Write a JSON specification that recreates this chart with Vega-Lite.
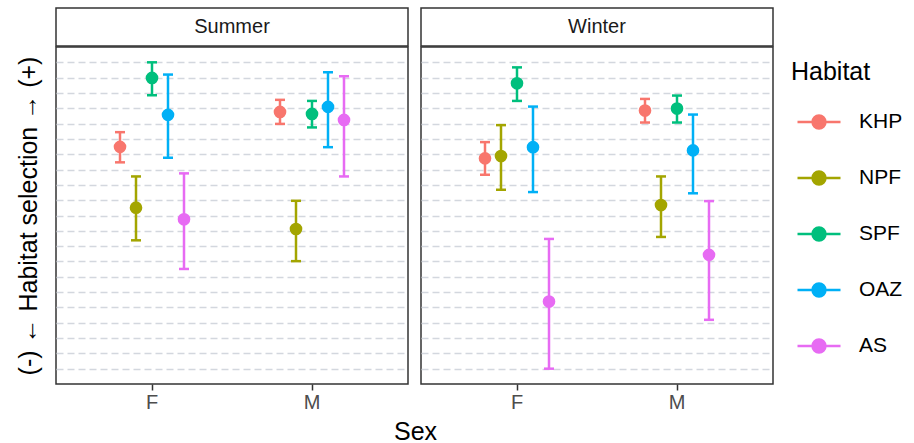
{
  "$schema": "https://vega.github.io/schema/vega-lite/v6.json",
  "padding": {"left": 15, "top": 7, "right": 0, "bottom": 0},
  "background": "white",
  "datasets": {
    "table": [
      {"season": "Summer", "sex": "F", "habitat": "KHP", "est": 14.48, "lo": 13.47, "hi": 15.44},
      {"season": "Summer", "sex": "F", "habitat": "NPF", "est": 10.51, "lo": 8.38, "hi": 12.55},
      {"season": "Summer", "sex": "F", "habitat": "SPF", "est": 18.98, "lo": 17.85, "hi": 20.0},
      {"season": "Summer", "sex": "F", "habitat": "OAZ", "est": 16.57, "lo": 13.77, "hi": 19.2},
      {"season": "Summer", "sex": "F", "habitat": "AS", "est": 9.75, "lo": 6.51, "hi": 12.75},
      {"season": "Summer", "sex": "M", "habitat": "KHP", "est": 16.76, "lo": 15.98, "hi": 17.55},
      {"season": "Summer", "sex": "M", "habitat": "NPF", "est": 9.12, "lo": 7.02, "hi": 10.96},
      {"season": "Summer", "sex": "M", "habitat": "SPF", "est": 16.63, "lo": 15.75, "hi": 17.48},
      {"season": "Summer", "sex": "M", "habitat": "OAZ", "est": 17.09, "lo": 14.46, "hi": 19.35},
      {"season": "Summer", "sex": "M", "habitat": "AS", "est": 16.24, "lo": 12.55, "hi": 19.09},
      {"season": "Winter", "sex": "F", "habitat": "KHP", "est": 13.73, "lo": 12.66, "hi": 14.79},
      {"season": "Winter", "sex": "F", "habitat": "NPF", "est": 13.88, "lo": 11.68, "hi": 15.9},
      {"season": "Winter", "sex": "F", "habitat": "SPF", "est": 18.63, "lo": 17.48, "hi": 19.67},
      {"season": "Winter", "sex": "F", "habitat": "OAZ", "est": 14.46, "lo": 11.53, "hi": 17.11},
      {"season": "Winter", "sex": "F", "habitat": "AS", "est": 4.38, "lo": 0.0, "hi": 8.47},
      {"season": "Winter", "sex": "M", "habitat": "KHP", "est": 16.85, "lo": 16.07, "hi": 17.61},
      {"season": "Winter", "sex": "M", "habitat": "NPF", "est": 10.68, "lo": 8.6, "hi": 12.55},
      {"season": "Winter", "sex": "M", "habitat": "SPF", "est": 16.98, "lo": 16.07, "hi": 17.83},
      {"season": "Winter", "sex": "M", "habitat": "OAZ", "est": 14.25, "lo": 11.45, "hi": 16.59},
      {"season": "Winter", "sex": "M", "habitat": "AS", "est": 7.43, "lo": 3.19, "hi": 10.94}
    ]
  },
  "vconcat": [
    {
      "hconcat": [
        {
          "width": 352, "height": 38,
          "data": {"values": [{"season": "Summer"}]},
          "mark": {"type": "text", "fontSize": 20, "color": "#1a1a1a", "baseline": "middle"},
          "encoding": {"x": {"field": "season", "type": "nominal", "axis": null}, "text": {"field": "season", "type": "nominal"}}
        },
        {
          "width": 352, "height": 38,
          "data": {"values": [{"season": "Winter"}]},
          "mark": {"type": "text", "fontSize": 20, "color": "#1a1a1a", "baseline": "middle"},
          "encoding": {"x": {"field": "season", "type": "nominal", "axis": null}, "text": {"field": "season", "type": "nominal"}}
        }
      ],
      "spacing": 13,
      "bounds": "flush"
    },
    {
      "hconcat": [
        {
          "width": 352, "height": 337,
          "data": {"name": "table"},
          "transform": [{"filter": "datum.season === 'Summer'"}],
          "encoding": {
            "x": {"field": "sex", "type": "nominal", "scale": {"type": "band", "paddingInner": 0.5, "paddingOuter": 0.35},
                  "axis": {"title": "Sex", "titleX": 359, "labelAngle": 0}},
            "xOffset": {"field": "habitat", "type": "nominal", "sort": ["KHP", "NPF", "SPF", "OAZ", "AS"],
                        "scale": {"domain": ["KHP", "NPF", "SPF", "OAZ", "AS"], "paddingInner": 0, "paddingOuter": 0}},
            "color": {"field": "habitat", "type": "nominal",
                      "scale": {"domain": ["KHP", "NPF", "SPF", "OAZ", "AS"], "range": ["#F8766D", "#A3A500", "#00BF7D", "#00B0F6", "#E76BF3"]},
                      "legend": {"title": "Habitat", "orient": "none", "legendX": 735, "legendY": 52,
                                 "titleFontSize": 25, "titleFontWeight": "normal", "titleColor": "#000000", "titlePadding": 14,
                                 "labelFontSize": 21, "labelColor": "#000000", "labelOffset": 17, "symbolOffset": 5,
                                 "symbolType": "M-1,0L1,0M0.3,0A0.3,0.3,0,1,1,-0.3,0A0.3,0.3,0,1,1,0.3,0Z",
                                 "symbolSize": 1849, "symbolStrokeWidth": 2.5, "symbolOpacity": 1, "rowPadding": 21,
                                 "encode": {"symbols": {"update": {"stroke": {"scale": "color", "field": "value"}, "fill": {"scale": "color", "field": "value"}}}}}}
          },
          "layer": [
            {
              "mark": {"type": "rule", "strokeWidth": 2.5},
              "encoding": {
                "y": {"field": "lo", "type": "quantitative", "scale": {"domain": [-1, 21], "nice": false, "zero": false},
                      "axis": {"title": "(-)  ←  Habitat selection  →  (+)", "values": [0,1,2,3,4,5,6,7,8,9,10,11,12,13,14,15,16,17,18,19,20]}},
                "y2": {"field": "hi"}
              }
            },
            {
              "mark": {"type": "tick", "size": 10, "thickness": 2.5, "opacity": 1},
              "encoding": {
                "y": {"field": "lo", "type": "quantitative", "scale": {"domain": [-1, 21], "nice": false, "zero": false},
                      "axis": {"title": "(-)  ←  Habitat selection  →  (+)", "values": [0,1,2,3,4,5,6,7,8,9,10,11,12,13,14,15,16,17,18,19,20]}}
              }
            },
            {
              "mark": {"type": "tick", "size": 10, "thickness": 2.5, "opacity": 1},
              "encoding": {
                "y": {"field": "hi", "type": "quantitative", "scale": {"domain": [-1, 21], "nice": false, "zero": false},
                      "axis": {"title": "(-)  ←  Habitat selection  →  (+)", "values": [0,1,2,3,4,5,6,7,8,9,10,11,12,13,14,15,16,17,18,19,20]}}
              }
            },
            {
              "mark": {"type": "point", "shape": "circle", "filled": true, "size": 160, "opacity": 1},
              "encoding": {
                "y": {"field": "est", "type": "quantitative", "scale": {"domain": [-1, 21], "nice": false, "zero": false},
                      "axis": {"title": "(-)  ←  Habitat selection  →  (+)", "values": [0,1,2,3,4,5,6,7,8,9,10,11,12,13,14,15,16,17,18,19,20]}}
              }
            }
          ]
        },
        {
          "width": 352, "height": 337,
          "data": {"name": "table"},
          "transform": [{"filter": "datum.season === 'Winter'"}],
          "encoding": {
            "x": {"field": "sex", "type": "nominal", "scale": {"type": "band", "paddingInner": 0.5, "paddingOuter": 0.35},
                  "axis": {"title": null, "labelAngle": 0}},
            "xOffset": {"field": "habitat", "type": "nominal", "sort": ["KHP", "NPF", "SPF", "OAZ", "AS"],
                        "scale": {"domain": ["KHP", "NPF", "SPF", "OAZ", "AS"], "paddingInner": 0, "paddingOuter": 0}},
            "color": {"field": "habitat", "type": "nominal",
                      "scale": {"domain": ["KHP", "NPF", "SPF", "OAZ", "AS"], "range": ["#F8766D", "#A3A500", "#00BF7D", "#00B0F6", "#E76BF3"]}}
          },
          "layer": [
            {
              "mark": {"type": "rule", "strokeWidth": 2.5},
              "encoding": {
                "y": {"field": "lo", "type": "quantitative", "scale": {"domain": [-1, 21], "nice": false, "zero": false},
                      "axis": {"title": null, "values": [0,1,2,3,4,5,6,7,8,9,10,11,12,13,14,15,16,17,18,19,20]}},
                "y2": {"field": "hi"}
              }
            },
            {
              "mark": {"type": "tick", "size": 10, "thickness": 2.5, "opacity": 1},
              "encoding": {
                "y": {"field": "lo", "type": "quantitative", "scale": {"domain": [-1, 21], "nice": false, "zero": false},
                      "axis": {"title": null, "values": [0,1,2,3,4,5,6,7,8,9,10,11,12,13,14,15,16,17,18,19,20]}}
              }
            },
            {
              "mark": {"type": "tick", "size": 10, "thickness": 2.5, "opacity": 1},
              "encoding": {
                "y": {"field": "hi", "type": "quantitative", "scale": {"domain": [-1, 21], "nice": false, "zero": false},
                      "axis": {"title": null, "values": [0,1,2,3,4,5,6,7,8,9,10,11,12,13,14,15,16,17,18,19,20]}}
              }
            },
            {
              "mark": {"type": "point", "shape": "circle", "filled": true, "size": 160, "opacity": 1},
              "encoding": {
                "y": {"field": "est", "type": "quantitative", "scale": {"domain": [-1, 21], "nice": false, "zero": false},
                      "axis": {"title": null, "values": [0,1,2,3,4,5,6,7,8,9,10,11,12,13,14,15,16,17,18,19,20]}}
              }
            }
          ]
        }
      ],
      "spacing": 13,
      "bounds": "flush"
    }
  ],
  "spacing": -6,
  "resolve": {"scale": {"color": "shared"}},
  "config": {
    "font": "Liberation Sans",
    "view": {"stroke": "#333333", "strokeWidth": 1.5},
    "axisX": {
      "labelFontSize": 20, "labelColor": "#4d4d4d", "labelPadding": 2,
      "tickColor": "#333333", "tickWidth": 1.5, "tickSize": 6,
      "domain": false, "grid": false,
      "titleFontSize": 25, "titleFontWeight": "normal", "titleColor": "#000000", "titlePadding": 7
    },
    "axisY": {
      "labels": false, "ticks": false, "domain": false,
      "grid": true, "gridDash": [7, 4], "gridColor": "#d3d7de", "gridWidth": 1.3,
      "titleFontSize": 25, "titleFontWeight": "normal", "titleColor": "#000000", "titlePadding": 15
    }
  }
}
